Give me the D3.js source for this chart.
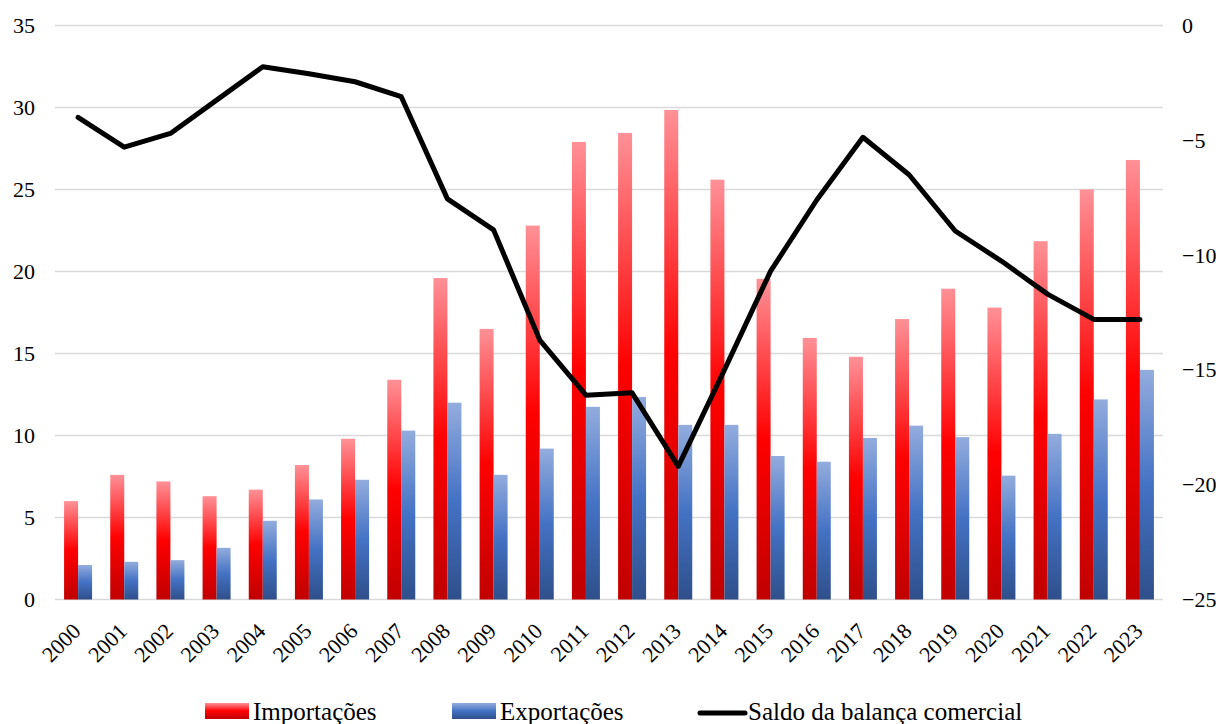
<!DOCTYPE html>
<html>
<head>
<meta charset="utf-8">
<script src="https://cdn.jsdelivr.net/npm/d3@7"></script>
</head>
<body style="margin:0;padding:0;background:#fff">
<svg id="chart" width="1216" height="724" font-family="Liberation Serif"></svg>
<script>
// Balança comercial, 2000–2023
const years = ["2000","2001","2002","2003","2004","2005","2006","2007","2008","2009","2010","2011",
               "2012","2013","2014","2015","2016","2017","2018","2019","2020","2021","2022","2023"];
const importacoes = [6.0, 7.6, 7.2, 6.3, 6.7, 8.2, 9.8, 13.4, 19.6, 16.5, 22.8, 27.9,
                     28.45, 29.85, 25.6, 19.55, 15.95, 14.8, 17.1, 18.95, 17.8, 21.85, 25.0, 26.8];
const exportacoes = [2.1, 2.3, 2.4, 3.15, 4.8, 6.1, 7.3, 10.3, 12.0, 7.6, 9.2, 11.75,
                     12.35, 10.65, 10.65, 8.75, 8.4, 9.85, 10.6, 9.9, 7.55, 10.1, 12.2, 14.0];
const saldo = [-4.0, -5.3, -4.7, -3.25, -1.8, -2.1, -2.45, -3.1, -7.55, -8.9, -13.7, -16.1,
               -16.0, -19.2, -15.0, -10.7, -7.6, -4.87, -6.5, -8.95, -10.26, -11.7, -12.8, -12.8];
const leftTicks = [0, 5, 10, 15, 20, 25, 30, 35];
const rightTicks = [0, -5, -10, -15, -20, -25];
const legendLabels = ["Importações", "Exportações", "Saldo da balança comercial"];

const FONT = "Liberation Serif";
const svg = d3.select("#chart");
const plot = { left: 55, right: 1163, top: 25.5, bottom: 599.5 };

const x = d3.scaleBand().domain(years).range([plot.left, plot.right]).paddingInner(0).paddingOuter(0);
const yL = d3.scaleLinear().domain([0, 35]).range([plot.bottom, plot.top]);
const yR = d3.scaleLinear().domain([-25, 0]).range([plot.bottom, plot.top]);

// gradients
const defs = svg.append("defs");
function grad(id, stops) {
  const g = defs.append("linearGradient").attr("id", id)
    .attr("x1", 0).attr("y1", 0).attr("x2", 0).attr("y2", 1);
  stops.forEach(([o, c]) => g.append("stop").attr("offset", o).attr("stop-color", c));
}
grad("gRed", [[0, "#ff9197"], [0.5, "#ff0000"], [1, "#c00000"]]);
grad("gBlue", [[0, "#93acdd"], [0.5, "#4472c4"], [1, "#2f4f8a"]]);

// gridlines
svg.append("g").selectAll("line").data(leftTicks).join("line")
  .attr("x1", plot.left).attr("x2", plot.right)
  .attr("y1", d => yL(d)).attr("y2", d => yL(d))
  .attr("stroke", "#d9d9d9").attr("stroke-width", 1.5);

function styleAxis(g) {
  g.attr("font-family", FONT).attr("font-size", 22);
  g.select(".domain").remove();
  g.selectAll("text").attr("font-family", FONT).attr("font-size", 22).attr("fill", "#000");
}

// left axis labels
const leftAxis = d3.axisLeft(yL).tickValues(leftTicks).tickSize(0).tickPadding(0);
const gl = svg.append("g").attr("transform", "translate(35,0)").call(leftAxis).call(styleAxis);
gl.selectAll("text").attr("dy", "0.32em");

// right axis labels
const rightAxis = d3.axisRight(yR).tickValues(rightTicks).tickSize(0).tickPadding(0);
const gr = svg.append("g").attr("transform", "translate(1182,0)").call(rightAxis).call(styleAxis);
gr.selectAll("text").attr("dy", "0.32em");

// bars
const bw = 14;
const gBars = svg.append("g");
gBars.selectAll("rect.imp").data(years).join("rect").attr("class", "imp")
  .attr("x", d => x(d) + x.bandwidth() / 2 - bw)
  .attr("width", bw)
  .attr("y", (d, i) => yL(importacoes[i]))
  .attr("height", (d, i) => yL(0) - yL(importacoes[i]))
  .attr("fill", "url(#gRed)");
gBars.selectAll("rect.exp").data(years).join("rect").attr("class", "exp")
  .attr("x", d => x(d) + x.bandwidth() / 2)
  .attr("width", bw)
  .attr("y", (d, i) => yL(exportacoes[i]))
  .attr("height", (d, i) => yL(0) - yL(exportacoes[i]))
  .attr("fill", "url(#gBlue)");

// saldo line
const line = d3.line()
  .x((d, i) => x(years[i]) + x.bandwidth() / 2)
  .y(d => yR(d));
svg.append("path").datum(saldo).attr("d", line)
  .attr("fill", "none").attr("stroke", "#000").attr("stroke-width", 5)
  .attr("stroke-linejoin", "round").attr("stroke-linecap", "round");

// year labels, rotated
const xAxis = d3.axisBottom(x).tickSize(0).tickPadding(0);
const gx = svg.append("g").attr("transform", `translate(0,${plot.bottom})`).call(xAxis).call(styleAxis);
gx.selectAll("text")
  .attr("text-anchor", "end").attr("dy", null).attr("y", 0)
  .attr("transform", "translate(4,33) rotate(-45)");

// legend
const lg = svg.append("g").attr("font-family", FONT).attr("font-size", 25);
lg.append("rect").attr("x", 205).attr("y", 703).attr("width", 44).attr("height", 16).attr("fill", "url(#gRed)");
lg.append("text").attr("x", 253).attr("y", 720).attr("font-family", FONT).attr("font-size", 25).text(legendLabels[0]);
lg.append("rect").attr("x", 452).attr("y", 703).attr("width", 44).attr("height", 16).attr("fill", "url(#gBlue)");
lg.append("text").attr("x", 500).attr("y", 720).attr("font-family", FONT).attr("font-size", 25).text(legendLabels[1]);
lg.append("line").attr("x1", 700).attr("x2", 745).attr("y1", 713).attr("y2", 713)
  .attr("stroke", "#000").attr("stroke-width", 5).attr("stroke-linecap", "round");
lg.append("text").attr("x", 748).attr("y", 720).attr("font-family", FONT).attr("font-size", 25).text(legendLabels[2]);
</script>
</body>
</html>
